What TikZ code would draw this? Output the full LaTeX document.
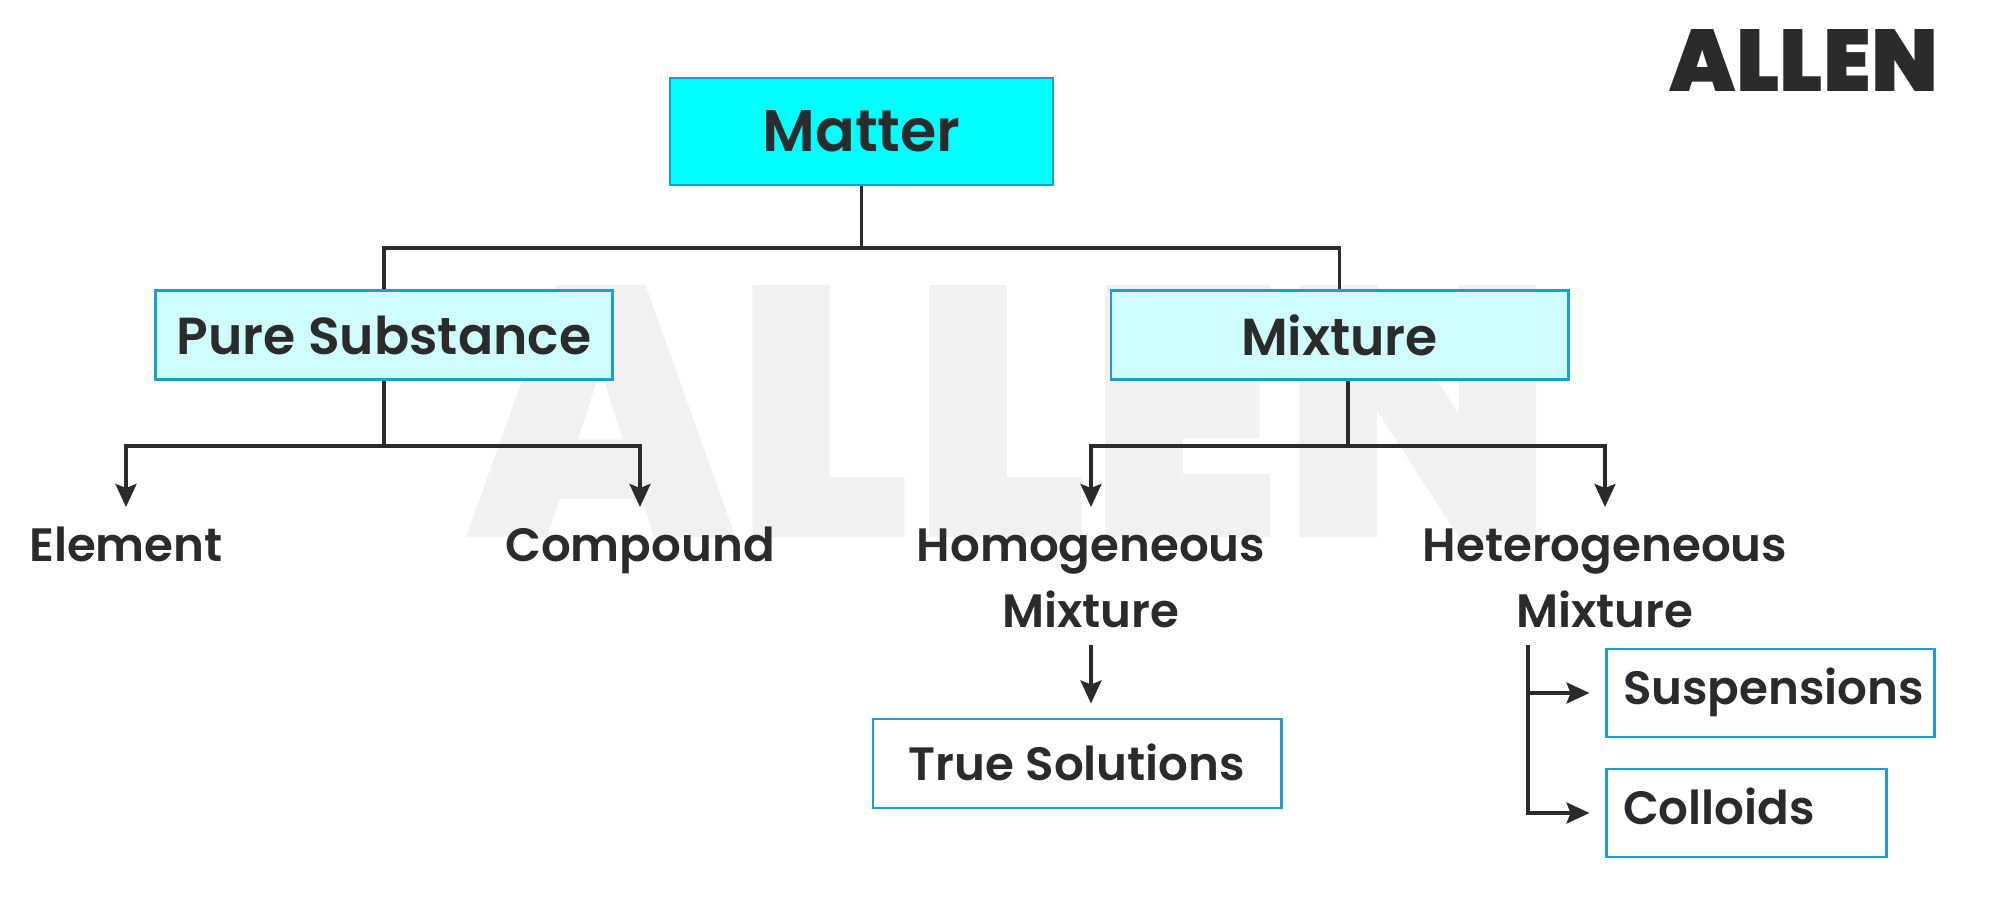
\documentclass[tikz,border=0pt]{standalone}
\usepackage{fontspec}
\setmainfont{Poppins}[BoldFont=Poppins SemiBold]
\newfontfamily\logofont{Poppins Black}
\usetikzlibrary{arrows.meta}
\definecolor{inkdark}{HTML}{2B2B2B}
\definecolor{boxblue}{HTML}{1E9BD0}
\definecolor{paleaqua}{HTML}{CFFDFD}
\definecolor{brightaqua}{HTML}{00FFFF}
\definecolor{markgray}{HTML}{F1F1F1}
\tikzset{
  box/.style={draw=boxblue,line width=0.85pt,inner sep=0pt,text=inkdark,font=\fontsize{14.8}{16}\bfseries},
  smallbox/.style={box,font=\fontsize{13.3}{16}\bfseries,minimum height=0.88cm,
    text height=0.34cm,text depth=0.10cm},
  item/.style={anchor=north,align=center,inner xsep=0pt,inner ysep=0.19cm,text=inkdark,
    font=\fontsize{13.3}{18.8}\bfseries},
  twoline/.style={item,inner ysep=0.21cm},
  link/.style={draw=inkdark,line width=1pt},
  tiplink/.style={link,-{Stealth[length=0.23cm,width=0.21cm,inset=0.04cm]}},
}
\begin{document}
\begin{tikzpicture}[y=-1cm]
    \useasboundingbox (0,0) rectangle (19.99,8.98);
    \fill[white] (0,0) rectangle (19.99,8.98);
    % watermark and logo
    \node[text=markgray,inner sep=0pt] (wmark) at (10.10,4.11)
          {\resizebox{10.87cm}{2.52cm}{\logofont ALLEN}};
    \node[text=inkdark,inner sep=0pt] (logo) at (18.04,0.60)
          {\resizebox{2.68cm}{0.62cm}{\logofont ALLEN}};
    % boxes
    \node[box,fill=brightaqua,minimum width=3.83cm,minimum height=1.07cm,
          font=\fontsize{16.7}{20}\fontseries{b}\selectfont] (matter) at (8.615,1.315) {Matter};
    \node[box,fill=paleaqua,minimum width=4.565cm,minimum height=0.89cm] (pure) at (3.84,3.35) {Pure Substance};
    \node[box,fill=paleaqua,minimum width=4.57cm,minimum height=0.89cm] (mixture) at (13.395,3.35) {Mixture};
    \node[smallbox,minimum width=4.08cm,minimum height=0.89cm,text height=0.44cm] (truesol) at (10.77,7.635) {True Solutions};
    \node[smallbox,text width=2.94cm,inner xsep=0.17cm,align=left] (susp) at (17.70,6.93) {Suspensions};
    \node[smallbox,text width=2.46cm,inner xsep=0.17cm,align=left] (colloids) at (17.46,8.13) {Colloids};
    % plain labels
    \node[item] (element) at (1.26,5.07) {Element};
    \node[item] (compound) at (6.40,5.07) {Compound};
    \node[twoline] (homog) at (10.91,5.07) {Homogeneous\\Mixture};
    \node[twoline] (heterog) at (16.05,5.07) {Heterogeneous\\Mixture};
    % connection points
    \coordinate (topbus) at (8.615,2.48);
    \coordinate (purebus) at (3.84,4.46);
    \coordinate (mixbus) at (13.48,4.46);
    \coordinate (hetfoot) at (15.28,6.45);
    % top level
    \draw[link] (matter.south) -- (topbus);
    \draw[link] (pure.north) |- (topbus) -| (mixture.north);
    % second level
    \draw[link] (pure.south) -- (purebus);
    \draw[tiplink] (purebus) -| (element.north);
    \draw[tiplink] (purebus) -| (compound.north);
    \draw[link] (mixture.south -| mixbus) -- (mixbus);
    \draw[tiplink] (mixbus) -| (homog.north);
    \draw[tiplink] (mixbus) -| (heterog.north);
    % third level
    \draw[tiplink,shorten <=-0.05cm,shorten >=0.14cm] (homog.south) -- (homog.south |- truesol.north);
    \draw[tiplink,shorten >=0.15cm] (hetfoot) |- (colloids.west);
    \draw[tiplink,shorten >=0.15cm] (hetfoot |- susp.west) -- (susp.west);
\end{tikzpicture}
\end{document}
